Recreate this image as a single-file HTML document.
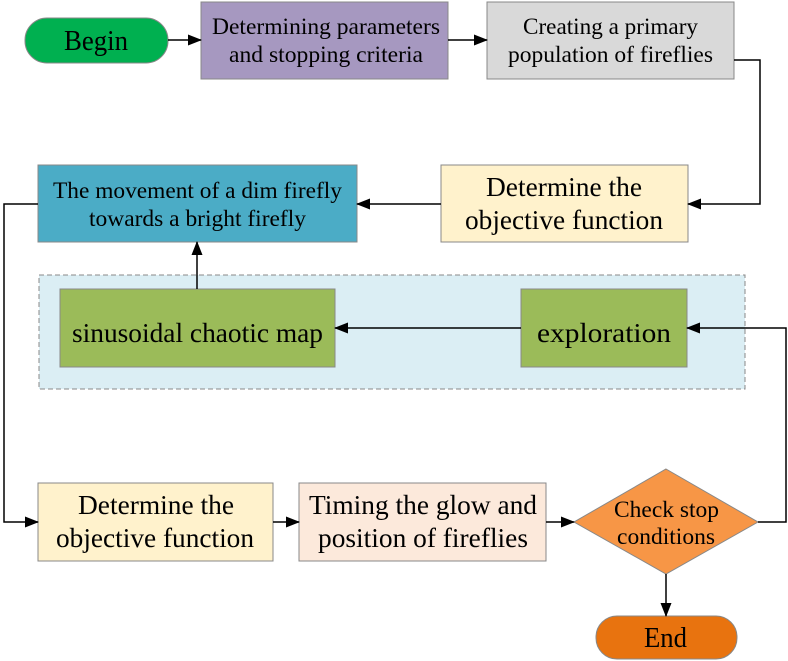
<!DOCTYPE html>
<html><head><meta charset="utf-8"><style>html,body{margin:0;padding:0;background:#fff}svg{display:block}text{font-family:"Liberation Serif",serif}</style></head>
<body>
<svg width="788" height="661" viewBox="0 0 788 661" xmlns="http://www.w3.org/2000/svg" style="font-family:'Liberation Serif',serif" fill="#000">
<defs><marker id="a" markerWidth="14" markerHeight="12" refX="13" refY="6" orient="auto" markerUnits="userSpaceOnUse"><path d="M0,0.5 L14,6 L0,11.5 Z" fill="#000"/></marker></defs>
<g stroke="#888" stroke-width="1">
<rect x="25" y="18" width="143" height="45" rx="22" fill="#00b050"/>
<rect x="201" y="2" width="247" height="77" fill="#a698c0"/>
<rect x="487" y="2" width="247" height="77" fill="#d9d9d9"/>
<rect x="441" y="165" width="247" height="77" fill="#fff2cc"/>
<rect x="38" y="165" width="319" height="77" fill="#4bacc6"/>
<rect x="39" y="275" width="706" height="114" fill="#dbeef4" stroke-dasharray="5,3"/>
<rect x="60" y="289" width="275" height="78" fill="#9bbb59"/>
<rect x="521" y="289" width="166" height="78" fill="#9bbb59"/>
<rect x="38" y="483" width="235" height="78" fill="#fff2cc"/>
<rect x="299" y="483" width="247" height="78" fill="#fce9db"/>
<polygon points="666,469 758,522 666,574 574,522" fill="#f79646"/>
<rect x="596" y="616" width="141" height="43" rx="21" fill="#e8730f"/>
</g>
<g stroke="#000" stroke-width="1.5" fill="none" marker-end="url(#a)">
<path d="M168,40 H201"/>
<path d="M448,40 H487"/>
<path d="M734,60 H760 V204 H688"/>
<path d="M441,204 H357"/>
<path d="M197,289 V242"/>
<path d="M521,328 H335"/>
<path d="M38,204 H4 V522 H38"/>
<path d="M273,522 H299"/>
<path d="M546,522 H574"/>
<path d="M666,574 V616"/>
<path d="M758,522 H786 V328 H687"/>
</g>
<g font-size="23">
<text x="64" y="50" font-size="28" textLength="64" lengthAdjust="spacingAndGlyphs">Begin</text>
<text x="212" y="34" textLength="228" lengthAdjust="spacingAndGlyphs">Determining parameters</text>
<text x="229" y="62" textLength="194" lengthAdjust="spacingAndGlyphs">and stopping criteria</text>
<text x="523" y="34" textLength="175" lengthAdjust="spacingAndGlyphs">Creating a primary</text>
<text x="508" y="62" textLength="205" lengthAdjust="spacingAndGlyphs">population of fireflies</text>
<text x="486" y="196" font-size="27" textLength="156" lengthAdjust="spacingAndGlyphs">Determine the</text>
<text x="465" y="229" font-size="27" textLength="198" lengthAdjust="spacingAndGlyphs">objective function</text>
<text x="53" y="198" textLength="289" lengthAdjust="spacingAndGlyphs">The movement of a dim firefly</text>
<text x="89" y="226" textLength="217" lengthAdjust="spacingAndGlyphs">towards a bright firefly</text>
<text x="72" y="342" font-size="27" textLength="251" lengthAdjust="spacingAndGlyphs">sinusoidal chaotic map</text>
<text x="537" y="342" font-size="27" textLength="134" lengthAdjust="spacingAndGlyphs">exploration</text>
<text x="78" y="514" font-size="27" textLength="156" lengthAdjust="spacingAndGlyphs">Determine the</text>
<text x="56" y="547" font-size="27" textLength="198" lengthAdjust="spacingAndGlyphs">objective function</text>
<text x="309" y="514" font-size="27" textLength="228" lengthAdjust="spacingAndGlyphs">Timing the glow and</text>
<text x="318" y="547" font-size="27" textLength="210" lengthAdjust="spacingAndGlyphs">position of fireflies</text>
<text x="614" y="517" font-size="23" textLength="105" lengthAdjust="spacingAndGlyphs">Check stop</text>
<text x="617" y="544" font-size="23" textLength="98" lengthAdjust="spacingAndGlyphs">conditions</text>
<text x="644" y="647" font-size="28" textLength="43" lengthAdjust="spacingAndGlyphs">End</text>
</g>
</svg>
</body></html>
